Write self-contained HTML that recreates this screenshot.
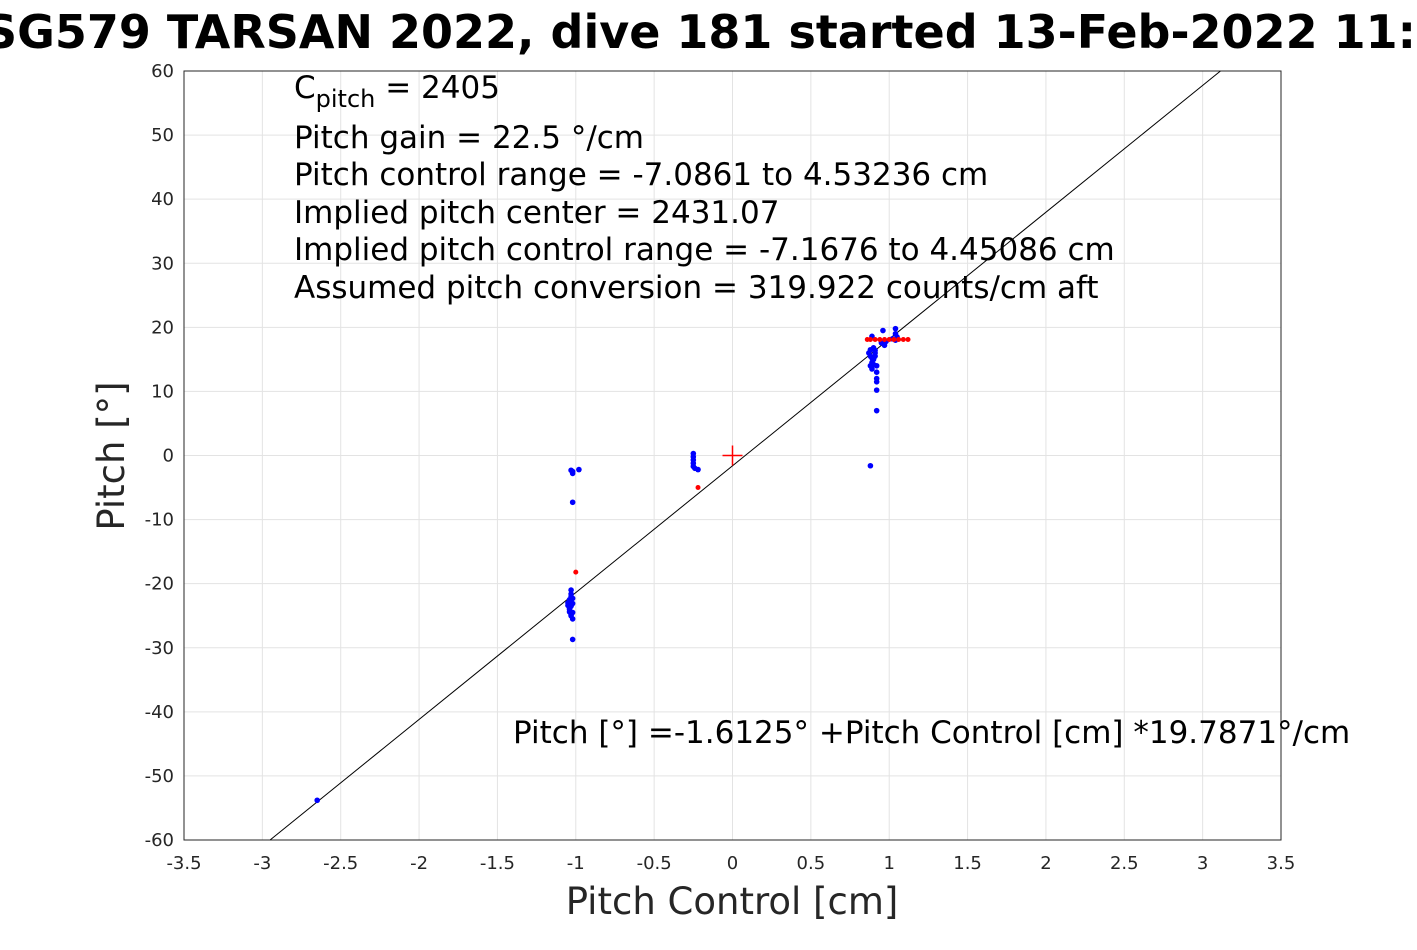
<!DOCTYPE html>
<html><head><meta charset="utf-8"><style>
body{margin:0;background:#fff;width:1417px;height:945px;overflow:hidden}
svg{font-family:"DejaVu Sans","Liberation Sans",sans-serif}
</style></head><body>
<svg id="chart" width="1417" height="945" xmlns="http://www.w3.org/2000/svg">
<text x="732" y="48" font-size="46" font-weight="bold" text-anchor="middle" fill="#000">SG579 TARSAN 2022, dive 181 started 13-Feb-2022 11:17</text>
<g id="grid"></g>
<rect x="184" y="71" width="1097" height="769" fill="none" stroke="#262626" stroke-width="1"/>
<g id="ticks"></g>
<g id="marks"></g>
<g font-size="31" fill="#000">
<text x="294" y="98">C<tspan font-size="24" dy="9">pitch</tspan><tspan dy="-9"> = 2405</tspan></text>
<text x="294" y="148">Pitch gain = 22.5 °/cm</text>
<text x="294" y="185">Pitch control range = -7.0861 to 4.53236 cm</text>
<text x="294" y="223">Implied pitch center = 2431.07</text>
<text x="294" y="260">Implied pitch control range = -7.1676 to 4.45086 cm</text>
<text x="294" y="298">Assumed pitch conversion = 319.922 counts/cm aft</text>
<text x="513" y="743">Pitch [°] =-1.6125° +Pitch Control [cm] *19.7871°/cm</text>
</g>
<text x="732" y="914" font-size="37" text-anchor="middle" fill="#262626">Pitch Control [cm]</text>
<text transform="translate(124,456) rotate(-90)" font-size="37" text-anchor="middle" fill="#262626">Pitch [°]</text>
</svg>
<script>
const xTicks=[-3.5,-3,-2.5,-2,-1.5,-1,-0.5,0,0.5,1,1.5,2,2.5,3,3.5];
const yTicks=[-60,-50,-40,-30,-20,-10,0,10,20,30,40,50,60];
const blueX=[-1.03,-1.03,-1.04,-1.05,-1.03,-1.04,-1.02,-1.03,-1.02,-1.04,-1.02,-1.05,-1.03,-1.02,-1.02,-1.02,-1.02,-1.03,-0.98,-0.25,-0.25,-0.25,-0.25,-0.25,-0.24,-0.22,-2.65,0.88,0.88,0.89,0.88,0.9,0.91,0.92,0.92,0.92,0.92,0.92,0.92,0.88,0.89,0.96,0.96,0.97,0.98,1.04,1.04,1.05,1.04,1.02,0.9,0.87,0.89,0.91,-1.04,-1.03,-1.02,-1.04,0.89,0.9,0.91,0.95];
const blueY=[-21,-22,-22.5,-23,-23.5,-24,-24.5,-25,-25.5,-23.8,-22.3,-23.4,-21.6,-28.7,-7.3,-2.5,-2.8,-2.3,-2.2,0.3,-0.2,-0.7,-1.2,-1.7,-2.0,-2.2,-53.8,16.5,15.5,14.5,14,15,16,14,13,12,11.5,10.2,7,-1.6,18.6,19.5,17.5,17.2,17.8,19.8,19,18.5,18,18.2,16.8,16,13.5,15.5,-22.8,-24.8,-23.1,-24.4,15.2,14.2,16.4,17.6];
const redX=[-1.0,-0.22,0.86,0.88,0.91,0.94,0.97,1.0,1.03,1.06,1.09,1.12];
const redY=[-18.2,-5.0,18.1,18.1,18.1,18.1,18.1,18.1,18.1,18.1,18.1,18.1];
const fitIntercept=-1.6125, fitSlope=19.7871;
const NS='http://www.w3.org/2000/svg';
const X=v=>184+(v+3.5)/7*1097, Y=v=>840-(v+60)/120*769;
function mk(t,p,a){const e=document.createElementNS(NS,t);for(const k in a)e.setAttribute(k,a[k]);p.appendChild(e);return e;}
const grid=document.getElementById('grid'),ticks=document.getElementById('ticks'),marks=document.getElementById('marks');
xTicks.forEach(v=>{
 const l=mk('line',grid,{x1:X(v),x2:X(v),y1:71,y2:840,stroke:'#e3e3e3'});
 
 
 const t=mk('text',ticks,{x:X(v),y:869,'font-size':18,'text-anchor':'middle',fill:'#262626'});
 
 
 t.textContent=v;
});
yTicks.forEach(v=>{
 const l=mk('line',grid,{x1:184,x2:1281,y1:Y(v),y2:Y(v),stroke:'#e3e3e3'});
 
 
 const t=mk('text',ticks,{x:174,y:Y(v)+6,'font-size':18,'text-anchor':'end',fill:'#262626'});
 
 
 t.textContent=v;
});
const x0=(-60-fitIntercept)/fitSlope, x1=(60-fitIntercept)/fitSlope;
const fl=mk('line',marks,{x1:X(x0),y1:Y(-60),x2:X(x1),y2:Y(60),stroke:'#000','stroke-width':1});


blueX.forEach((v,i)=>{
 const c=mk('circle',marks,{cx:X(v),cy:Y(blueY[i]),r:2.8,fill:'#0000ff'});
 
 
});
redX.forEach((v,i)=>{
 const c=mk('circle',marks,{cx:X(v),cy:Y(redY[i]),r:2.5,fill:'#ff0000'});
 
 
});
const cr=mk('path',marks,{d:`M${X(0)-10},${Y(0)}h20M${X(0)},${Y(0)-10}v20`,stroke:'#ff0000','stroke-width':1.5});


</script>
</body></html>
